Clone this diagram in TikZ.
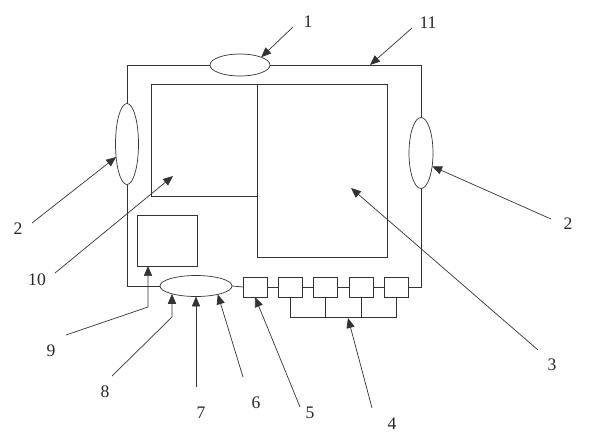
\documentclass[tikz,border=0pt]{standalone}
\usepackage{fontspec}
\setmainfont{Liberation Serif}
\usetikzlibrary{arrows.meta,calc,shapes.geometric}

\tikzset{
  wire/.style={draw=black!80,line width=0.6pt},
  coil/.style={ellipse,wire,inner sep=0pt,outer sep=0pt},
  cell/.style={rectangle,wire,inner sep=0pt,outer sep=0pt,minimum width=0.72cm,minimum height=0.6cm},
  pointer/.style={wire,-{Triangle[length=8.5pt,width=7pt]}},
  num/.style={inner sep=1pt,font=\fontsize{15}{18}\selectfont,text=black!85}
}

\begin{document}
\begin{tikzpicture}[x=0.03cm,y=-0.03cm]
  \useasboundingbox (0,0) rectangle (600,443);
  % coils on the frame
  \node[coil,minimum width=1.8cm,minimum height=0.66cm] (top) at (240,65) {};
  \node[coil,minimum width=0.69cm,minimum height=2.43cm] (left) at (127,144) {};
  \node[coil,minimum width=0.72cm,minimum height=2.13cm] (right) at (421,153) {};
  \node[coil,minimum width=2.16cm,minimum height=0.63cm] (base) at (196,286) {};
  % inner panels
  \node[cell,minimum width=3.18cm,minimum height=3.36cm] (panel) at (204,140) {};
  \node[cell,minimum width=3.9cm,minimum height=5.19cm] (screen) at (322,170.5) {};
  \node[cell,minimum width=1.8cm,minimum height=1.53cm] (unit) at (167,240.5) {};
  % row of small boxes
  \node[cell] (sw) at (255,287) {};
  \foreach \i/\x in {1/290,2/325,3/361,4/396}
    \node[cell] (c\i) at (\x,287) {};
  % frame wiring
  \draw[wire] (top.west) -| (left.north);
  \draw[wire] (top.east) -| (right.north);
  \draw[wire] (left.south) |- (base.west);
  \draw[wire] (right.south) |- (c4.east);
  \draw[wire] (base.east) -- (sw.west);
  \draw[wire] (sw.east) -- (c1.west);
  \draw[wire] (c1.east) -- (c2.west);
  \draw[wire] (c2.east) -- (c3.west);
  \draw[wire] (c3.east) -- (c4.west);
  % bus under the boxes
  \coordinate (busL) at (290,317);
  \coordinate (busR) at (396,317);
  \draw[wire] (c1.south) -- (busL) -- (busR) -- (c4.south);
  \draw[wire] (c2.south) -- (c2.south |- busL);
  \draw[wire] (c3.south) -- (c3.south |- busL);
  % labels
  \node[num] (n1) at (308,22) {1};
  \node[num] (n11) at (428,23) {11};
  \node[num] (n2a) at (18,229) {2};
  \node[num] (n2b) at (568,224) {2};
  \node[num] (n10) at (37,280) {10};
  \node[num] (n3) at (552,365) {3};
  \node[num] (n4) at (392,424) {4};
  \node[num] (n5) at (310,413) {5};
  \node[num] (n6) at (256,403) {6};
  \node[num] (n7) at (201,413) {7};
  \node[num] (n8) at (105,392) {8};
  \node[num] (n9) at (51,351) {9};
  % leader lines
  \coordinate (t1) at (293,27);
  \coordinate (t11) at (412,28);
  \coordinate (p11) at (370,65);
  \coordinate (t2a) at (32,223);
  \coordinate (t2b) at (551,219);
  \coordinate (t10) at (55,273);
  \coordinate (p10) at (173,176);
  \coordinate (t3) at (538,350);
  \coordinate (p3) at (351,188);
  \coordinate (t4) at (372,408);
  \coordinate (p4) at (348,318);
  \coordinate (t5) at (300,407);
  \coordinate (t6) at (243,377);
  \coordinate (t7) at (196,387);
  \coordinate (t8) at (112,376);
  \coordinate (k8) at (172,317);
  \coordinate (t9) at (66,335);
  \coordinate (k9) at (148,307);
  \draw[pointer] (t1) -- (top.north east);
  \draw[pointer] (t11) -- (p11);
  \draw[pointer] (t2a) -- (left.230);
  \draw[pointer] (t2b) -- (right.-50);
  \draw[pointer] (t10) -- (p10);
  \draw[pointer] (t3) -- (p3);
  \draw[pointer] (t4) -- (p4);
  \draw[pointer] (t5) -- (sw.south);
  \draw[pointer] (t6) -- (base.-21);
  \draw[pointer] (t7) -- (base.south);
  \draw[pointer] (t8) -- (k8) -- (base.198);
  \draw[pointer] (t9) -- (k9) -- (k9 |- unit.south);
\end{tikzpicture}
\end{document}
